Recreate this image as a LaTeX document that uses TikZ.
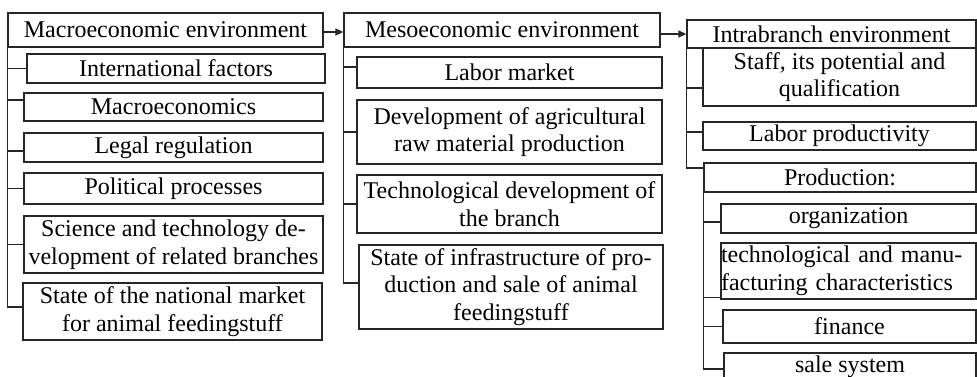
\documentclass[tikz,border=0pt]{standalone}
\usepackage{fontspec}
\setmainfont{Liberation Serif}
\usetikzlibrary{arrows.meta}
\begin{document}
\begin{tikzpicture}[x=1pt,y=-1pt,
  bx/.style={draw=black!85, line width=1.3pt, rectangle, inner sep=0pt, align=center,
    font=\fontsize{24}{27.5}\selectfont},
  ln/.style={draw=black!85, line width=1.3pt},
  arr/.style={draw=black!85, line width=1.3pt, -{Triangle[length=8pt,width=7pt]}}]
\useasboundingbox (0,0) rectangle (977,376);
\clip (0,0) rectangle (977,376);
% Macroeconomic column
\node[bx, minimum width=315, minimum height=34] (macro) at (165.5,30) {Macroeconomic environment};
\node[bx, minimum width=298, minimum height=29] (intl) at (176,68.5) {International factors};
\node[bx, minimum width=299, minimum height=28] (mecon) at (173.5,107) {Macroeconomics};
\node[bx, minimum width=299, minimum height=29] (legal) at (173.5,147.5) {Legal regulation};
\node[bx, minimum width=299, minimum height=31] (polit) at (173.5,188.5) {Political processes};
\node[bx, minimum width=299, minimum height=57] (sci) at (173.5,244.5) {Science and technology de-\\velopment of related branches};
\node[bx, minimum width=299, minimum height=57] (natm) at (172.5,311.5) {State of the national market\\for animal feedingstuff};
% Mesoeconomic column
\node[bx, minimum width=316, minimum height=34] (meso) at (502,30) {Mesoeconomic environment};
\node[bx, minimum width=305, minimum height=31] (labm) at (509.5,72.5) {Labor market};
\node[bx, minimum width=305, minimum height=64] (agri) at (509.5,132) {Development of agricultural\\raw material production};
\node[bx, minimum width=305, minimum height=58] (tech) at (509.5,204) {Technological development of\\the branch};
\node[bx, minimum width=304, minimum height=84] (infra) at (511,287) {State of infrastructure of pro-\\duction and sale of animal\\feedingstuff};
% Intrabranch column
\node[bx, minimum width=289, minimum height=28] (intra) at (831.5,34) {Intrabranch environment};
\node[bx, minimum width=273, minimum height=58] (staff) at (839.5,77) {Staff, its potential and\\qualification};
\node[bx, minimum width=273, minimum height=28] (lprod) at (839.5,136) {Labor productivity};
\node[bx, minimum width=272, minimum height=29] (prod) at (840,177.5) {Production:};
\node[bx, minimum width=255, minimum height=29] (org) at (848.5,218.5) {organization};
\node[bx, minimum width=255, minimum height=56, text width=255pt, align=left] (tmc) at (848.5,271) {technological and manu-\\facturing characteristics};
\node[bx, minimum width=253, minimum height=33] (fin) at (849.5,326.5) {finance};
\node[bx, minimum width=252, minimum height=28] (sale) at (850,367) {sale system};
% arrows
\draw[arr] ([yshift=-2pt]macro.east) -- ([yshift=-2pt]meso.west);
\draw[arr] (meso.east |- intra.west) -- (intra.west);
% macro tree
\draw[ln] (macro.south west) |- (intl.west);
\draw[ln] (macro.south west) |- ([yshift=7pt]mecon.west);
\draw[ln] (macro.south west) |- ([yshift=-3.5pt]legal.west);
\draw[ln] (macro.south west) |- (polit.west);
\draw[ln] (macro.south west) |- (sci.west);
\draw[ln] (macro.south west) |- ([yshift=4.5pt]natm.west);
% meso tree
\draw[ln] (meso.south west) |- ([yshift=5.5pt]labm.west);
\draw[ln] (meso.south west) |- (agri.west);
\draw[ln] (meso.south west) |- (tech.west);
\draw[ln] (meso.south west) |- ([yshift=4pt]infra.west);
% intra tree
\draw[ln] (intra.south west) |- ([yshift=-11pt]staff.west);
\draw[ln] (intra.south west) |- ([yshift=4pt]lprod.west);
\draw[ln] (intra.south west) |- ([yshift=9.5pt]prod.west);
% production tree
\draw[ln] (prod.south west) |- ([yshift=-3.5pt]org.west);
\draw[ln] (prod.south west) |- ([yshift=2pt]tmc.south west);
\draw[ln] (prod.south west) |- (fin.west);
\draw[ln] (prod.south west) |- ([yshift=-2pt]sale.west);
\end{tikzpicture}
\end{document}
